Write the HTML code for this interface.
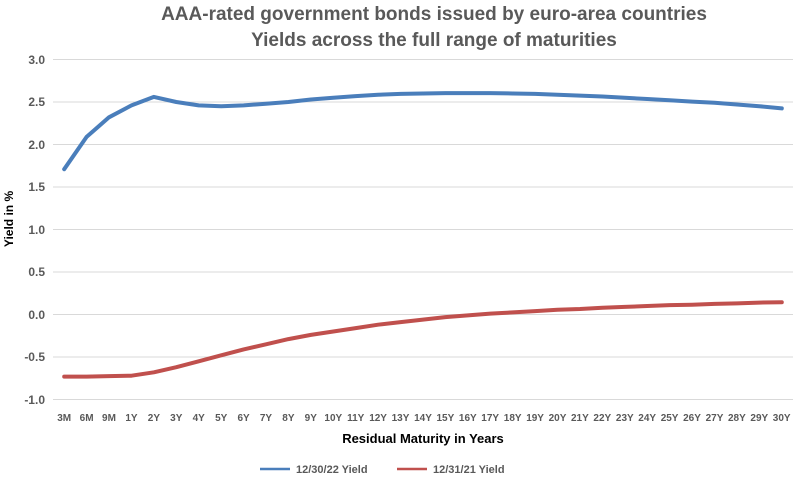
<!DOCTYPE html>
<html><head><meta charset="utf-8"><style>
body{margin:0;background:#fff}
svg text{font-family:"Liberation Sans",sans-serif;font-weight:bold}
</style></head><body>
<svg id="s" width="795" height="480" xmlns="http://www.w3.org/2000/svg">
<text x="434" y="20" text-anchor="middle" font-size="19" fill="#595959">AAA-rated government bonds issued by euro-area countries</text>
<text x="434" y="46" text-anchor="middle" font-size="19" fill="#595959">Yields across the full range of maturities</text>
<g stroke="#d9d9d9" stroke-width="1">
<line x1="53" x2="793" y1="59.5" y2="59.5"/><line x1="53" x2="793" y1="102" y2="102"/>
<line x1="53" x2="793" y1="144.5" y2="144.5"/><line x1="53" x2="793" y1="187" y2="187"/>
<line x1="53" x2="793" y1="229.5" y2="229.5"/><line x1="53" x2="793" y1="272" y2="272"/>
<line x1="53" x2="793" y1="314.5" y2="314.5"/><line x1="53" x2="793" y1="357" y2="357"/>
<line x1="53" x2="793" y1="399.5" y2="399.5"/>
</g>
<g font-size="12" fill="#595959" text-anchor="end">
<text x="45" y="64">3.0</text><text x="45" y="106">2.5</text><text x="45" y="149">2.0</text>
<text x="45" y="191">1.5</text><text x="45" y="234">1.0</text><text x="45" y="276">0.5</text>
<text x="45" y="319">0.0</text><text x="45" y="361">-0.5</text><text x="45" y="404">-1.0</text>
</g>
<text transform="translate(13,219) rotate(-90)" text-anchor="middle" font-size="12" fill="#000">Yield in %</text>
<g id="xl" font-size="10" fill="#595959" text-anchor="middle">
<text x="64.2" y="421">3M</text><text x="86.6" y="421">6M</text><text x="109" y="421">9M</text><text x="131.5" y="421">1Y</text>
<text x="153.9" y="421">2Y</text><text x="176.3" y="421">3Y</text><text x="198.7" y="421">4Y</text><text x="221.2" y="421">5Y</text>
<text x="243.6" y="421">6Y</text><text x="266" y="421">7Y</text><text x="288.4" y="421">8Y</text><text x="310.8" y="421">9Y</text>
<text x="333.3" y="421">10Y</text><text x="355.7" y="421">11Y</text><text x="378.1" y="421">12Y</text><text x="400.5" y="421">13Y</text>
<text x="423" y="421">14Y</text><text x="445.4" y="421">15Y</text><text x="467.8" y="421">16Y</text><text x="490.2" y="421">17Y</text>
<text x="512.7" y="421">18Y</text><text x="535.1" y="421">19Y</text><text x="557.5" y="421">20Y</text><text x="579.9" y="421">21Y</text>
<text x="602.3" y="421">22Y</text><text x="624.8" y="421">23Y</text><text x="647.2" y="421">24Y</text><text x="669.6" y="421">25Y</text>
<text x="692" y="421">26Y</text><text x="714.5" y="421">27Y</text><text x="736.9" y="421">28Y</text><text x="759.3" y="421">29Y</text>
<text x="781.7" y="421">30Y</text>
</g>
<text x="423" y="443" text-anchor="middle" font-size="13" fill="#000">Residual Maturity in Years</text>
<line x1="260" x2="290" y1="469" y2="469" stroke="#4a7ebb" stroke-width="2.5"/>
<text x="296" y="473" font-size="11" fill="#595959">12/30/22 Yield</text>
<line x1="397" x2="427" y1="469" y2="469" stroke="#c0504d" stroke-width="2.5"/>
<text x="433" y="473" font-size="11" fill="#595959">12/31/21 Yield</text>
<polyline id="b" fill="none" stroke="#4a7ebb" stroke-width="4" stroke-linejoin="round" stroke-linecap="round"/>
<polyline id="r" fill="none" stroke="#c0504d" stroke-width="4" stroke-linejoin="round" stroke-linecap="round"/>
</svg>
<script>
var B=[1.71,2.09,2.32,2.46,2.56,2.5,2.46,2.45,2.46,2.48,2.5,2.53,2.55,2.57,2.585,2.595,2.6,2.605,2.605,2.605,2.6,2.595,2.585,2.575,2.565,2.55,2.535,2.52,2.505,2.49,2.47,2.45,2.425];
var R=[-0.73,-0.73,-0.725,-0.72,-0.68,-0.62,-0.55,-0.48,-0.41,-0.35,-0.29,-0.24,-0.2,-0.16,-0.12,-0.09,-0.06,-0.03,-0.01,0.01,0.025,0.04,0.055,0.065,0.08,0.09,0.1,0.11,0.115,0.125,0.13,0.14,0.145];
function p(a){return a.map(function(v,i){return (64.2+i*22.424).toFixed(1)+","+(314.5-v*85).toFixed(1)}).join(" ")}
document.getElementById("b").setAttribute("points",p(B));
document.getElementById("r").setAttribute("points",p(R));
</script>
</body></html>
